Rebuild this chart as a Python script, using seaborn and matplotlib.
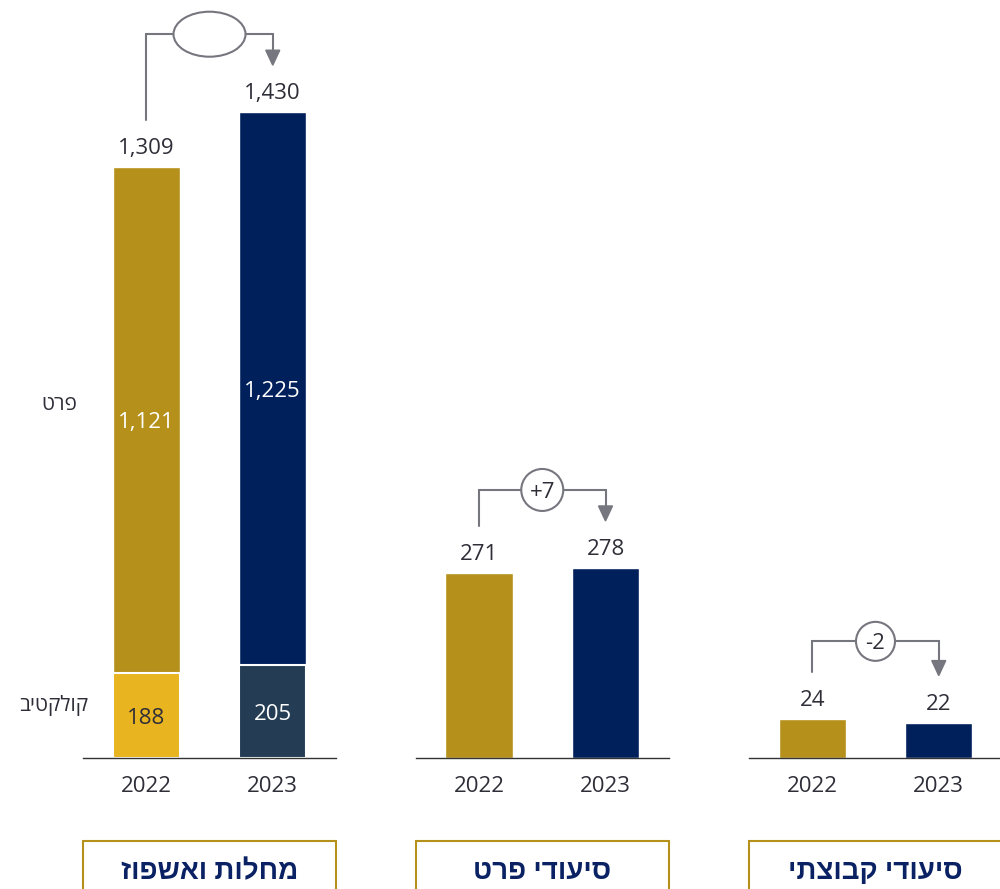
import numpy as np
import pandas as pd
import matplotlib
matplotlib.use('Agg')
import matplotlib.pyplot as plt
import seaborn as sns
from matplotlib.patches import Ellipse, Polygon, Rectangle
from matplotlib.lines import Line2D
from matplotlib.transforms import IdentityTransform

# ---------------- data ----------------
years = ['2022', '2023']
illness_individual = [1121, 1225]      # פרט
illness_collective = [188, 205]        # קולקטיב
illness_total = [1309, 1430]
nursing_individual = [271, 278]
nursing_group = [24, 22]
changes = ['', '+7', '-2']
panel_titles = ['מחלות ואשפוז', 'סיעודי פרט', 'סיעודי קבוצתי']
segment_labels = ['פרט', 'קולקטיב']

# ---------------- style ----------------
GOLD = '#B5901A'
LIGHT_GOLD = '#E8B420'
NAVY = '#00205B'
SLATE = '#243D55'
TEXT = '#2E2E38'
GRAY = '#76767F'
TITLE = '#0A2263'

sns.set_theme(style='white')
plt.rcParams['font.family'] = ['Open Sans', 'Liberation Sans', 'DejaVu Sans']


def heb(s):
    return s[::-1]


W, H = 1000, 889
fig = plt.figure(figsize=(W / 100, H / 100), dpi=100)
base_px = 758
lefts = [83, 415.75, 749]
width_px = 253
scales = [0.4516, 0.6836, 1.61]   # pixels per unit in each panel

axes = []
for l in lefts:
    ax = fig.add_axes([l / W, (H - base_px) / H, width_px / W, base_px / H])
    axes.append(ax)


def bars(ax, vals, colors, **kw):
    df = pd.DataFrame({'year': years, 'value': vals})
    sns.barplot(data=df, x='year', y='value', hue='year', palette=colors,
                legend=False, width=0.53, ax=ax, saturation=1, **kw)


bars(axes[0], illness_total, [GOLD, NAVY])
bars(axes[0], illness_collective, [LIGHT_GOLD, SLATE], edgecolor='white', linewidth=1.5)
bars(axes[1], nursing_individual, [GOLD, NAVY])
bars(axes[2], nursing_group, [GOLD, NAVY])

for ax, s in zip(axes, scales):
    ax.set_xlim(-0.5, 1.5)
    ax.set_ylim(0, base_px / s)
    ax.set_xlabel('')
    ax.set_ylabel('')
    ax.set_yticks([])
    for sp in ['left', 'right', 'top']:
        ax.spines[sp].set_visible(False)
    ax.spines['bottom'].set_color('#333333')
    ax.spines['bottom'].set_linewidth(1.0)
    ax.tick_params(axis='x', length=0, pad=13, labelsize=16, labelcolor=TEXT)
    ax.patch.set_alpha(0)

# value labels on top
for ax, vals in zip(axes, [illness_total, nursing_individual, nursing_group]):
    for i, v in enumerate(vals):
        ax.annotate(f'{v:,}', (i, v), xytext=(0, 9.4), textcoords='offset points',
                    ha='center', va='baseline', fontsize=16, color=TEXT)

# inside labels for stacked panel
in_colors_top = ['white', 'white']
in_colors_bottom = [TEXT, 'white']
for i in range(2):
    b = illness_collective[i]
    t = illness_individual[i]
    axes[0].text(i, b + t / 2, f'{t:,}', ha='center', va='center_baseline', fontsize=16,
                 color=in_colors_top[i])
    axes[0].text(i, b / 2, f'{b:,}', ha='center', va='center_baseline', fontsize=16,
                 color=in_colors_bottom[i])

# segment labels on the left
fig.text(77 / W, 1 - 405 / H, heb(segment_labels[0]), ha='right', va='center',
         fontsize=15, color=TEXT)
fig.text(88 / W, 1 - 705 / H, heb(segment_labels[1]), ha='right', va='center',
         fontsize=15, color=TEXT)


# change brackets
def bracket(ax, vals, label, bw, bh):
    p0 = ax.transData.transform((0, vals[0]))
    p1 = ax.transData.transform((1, vals[1]))
    ytop = max(p0[1], p1[1]) + 78
    ystart = p0[1] + 47
    ytip = p1[1] + 47
    head = 15
    fig.add_artist(Line2D([p0[0], p0[0], p1[0], p1[0]],
                          [ystart, ytop, ytop, ytip + head],
                          color=GRAY, lw=1.5, transform=IdentityTransform(),
                          solid_joinstyle='miter'))
    fig.add_artist(Polygon([[p1[0] - 7, ytip + head], [p1[0] + 7, ytip + head],
                            [p1[0], ytip]], closed=True, color=GRAY,
                           transform=IdentityTransform()))
    cx = (p0[0] + p1[0]) / 2
    fig.add_artist(Ellipse((cx, ytop), bw, bh, facecolor='white', edgecolor=GRAY,
                           lw=1.5, transform=IdentityTransform(), zorder=5))
    if label:
        fig.text(cx / W, ytop / H, label, ha='center', va='center_baseline',
                 fontsize=16, color=TEXT, zorder=6)


bracket(axes[0], illness_total, changes[0], 72, 45)
bracket(axes[1], nursing_individual, changes[1], 42, 42)
bracket(axes[2], nursing_group, changes[2], 39, 39)

# bottom title boxes
for ax, title in zip(axes, panel_titles):
    pos = ax.get_position()
    fig.add_artist(Rectangle((pos.x0, -0.02), pos.width, 0.02 + (H - 841) / H,
                             transform=fig.transFigure, fill=False,
                             edgecolor=GOLD, lw=1.5, clip_on=False))
    fig.text(pos.x0 + pos.width / 2, 1 - 879 / H, heb(title), ha='center',
             va='baseline', fontsize=20, fontweight='heavy', color=TITLE)

fig.savefig('out.png', dpi=100)
